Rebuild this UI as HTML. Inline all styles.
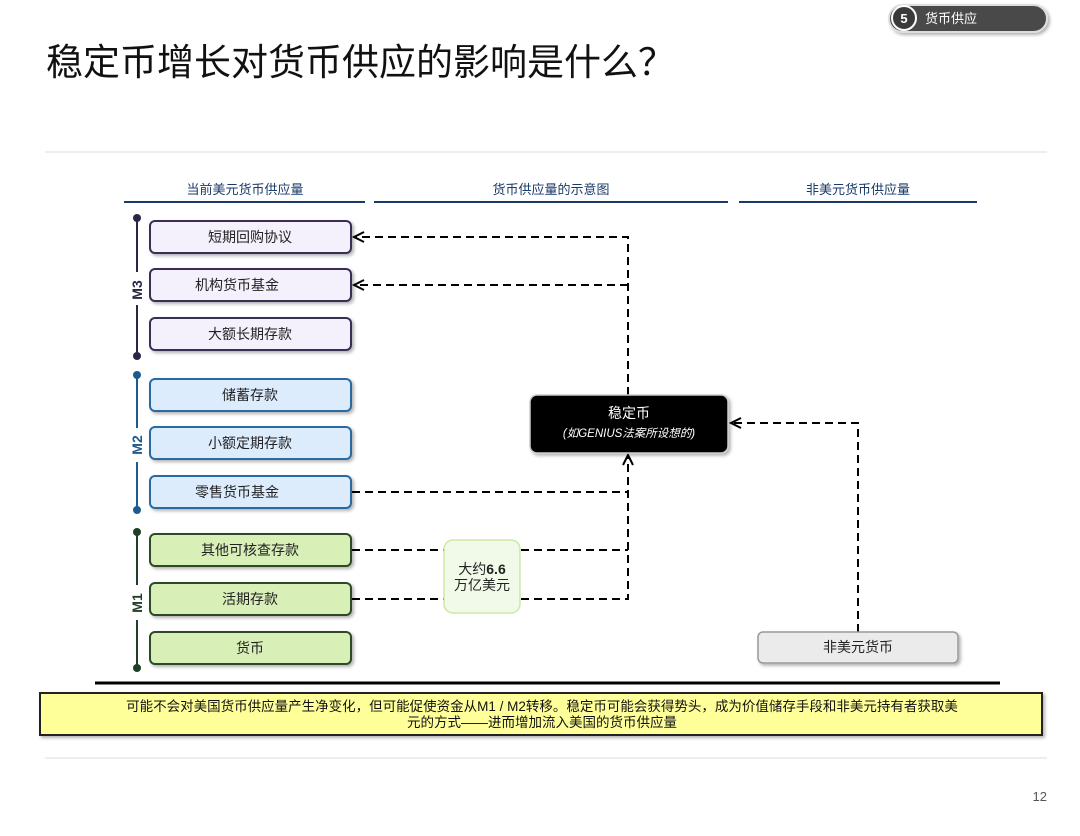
<!DOCTYPE html>
<html><head><meta charset="utf-8"><style>
html,body{margin:0;padding:0;background:#fff;}
svg{display:block;}
text{font-family:"Liberation Sans","Noto Sans CJK SC",sans-serif;}
</style></head><body>
<svg width="1080" height="836" viewBox="0 0 1080 836" xmlns="http://www.w3.org/2000/svg">
<defs>
<filter id="sh" x="-10%" y="-20%" width="130%" height="160%"><feDropShadow dx="2" dy="2" stdDeviation="1.5" flood-color="#000" flood-opacity="0.3"/></filter>
<marker id="ar" markerWidth="14" markerHeight="14" refX="11" refY="6" orient="auto" markerUnits="userSpaceOnUse"><path d="M1,1 L11,6 L1,11" fill="none" stroke="#000" stroke-width="2"/></marker>
</defs>
<rect x="889" y="5" width="158" height="27" rx="13.5" fill="#4a4a4a" stroke="#ddd" stroke-width="2" filter="url(#sh)"/>
<circle cx="904" cy="18" r="12" fill="#3a3a3a" stroke="#fff" stroke-width="2"/>
<text x="904" y="23" font-size="13" font-weight="bold" fill="#fff" text-anchor="middle">5</text>
<text x="925" y="23" font-size="13" fill="#fff">货币供应</text>
<text x="46" y="75" font-size="37" fill="#111">稳定币增长对货币供应的影响是什么？</text>
<line x1="45" y1="152" x2="1047" y2="152" stroke="#ddd" stroke-width="1"/>
<text x="245" y="194" font-size="13" fill="#1a3a6a" text-anchor="middle">当前美元货币供应量</text>
<line x1="124" y1="202" x2="365" y2="202" stroke="#1a3a6a" stroke-width="2"/>
<text x="551" y="194" font-size="13" fill="#1a3a6a" text-anchor="middle">货币供应量的示意图</text>
<line x1="374" y1="202" x2="728" y2="202" stroke="#1a3a6a" stroke-width="2"/>
<text x="858" y="194" font-size="13" fill="#1a3a6a" text-anchor="middle">非美元货币供应量</text>
<line x1="739" y1="202" x2="977" y2="202" stroke="#1a3a6a" stroke-width="2"/>
<g stroke-width="2">
<line x1="137" y1="218" x2="137" y2="272" stroke="#2e2546"/><line x1="137" y1="305" x2="137" y2="356" stroke="#2e2546"/>
<circle cx="137" cy="218" r="4" fill="#2e2546"/><circle cx="137" cy="356" r="4" fill="#2e2546"/>
<line x1="137" y1="375" x2="137" y2="428" stroke="#1f5a8e"/><line x1="137" y1="462" x2="137" y2="510" stroke="#1f5a8e"/>
<circle cx="137" cy="375" r="4" fill="#1f5a8e"/><circle cx="137" cy="510" r="4" fill="#1f5a8e"/>
<line x1="137" y1="532" x2="137" y2="585" stroke="#1f3f28"/><line x1="137" y1="620" x2="137" y2="668" stroke="#1f3f28"/>
<circle cx="137" cy="532" r="4" fill="#1f3f28"/><circle cx="137" cy="668" r="4" fill="#1f3f28"/>
</g>
<text transform="translate(142,290) rotate(-90)" font-size="14" font-weight="bold" fill="#2e2546" text-anchor="middle">M3</text>
<text transform="translate(142,445) rotate(-90)" font-size="14" font-weight="bold" fill="#1f5a8e" text-anchor="middle">M2</text>
<text transform="translate(142,603) rotate(-90)" font-size="14" font-weight="bold" fill="#1f3f28" text-anchor="middle">M1</text>
<g font-size="14" fill="#222" text-anchor="middle">
<g stroke="#3b2d55" stroke-width="2" fill="#f4f0fc" filter="url(#sh)">
<rect x="150" y="221" width="201" height="32" rx="5"/><rect x="150" y="269" width="201" height="32" rx="5"/><rect x="150" y="318" width="201" height="32" rx="5"/>
</g>
<g stroke="#2a6aa0" stroke-width="2" fill="#dcecfd" filter="url(#sh)">
<rect x="150" y="379" width="201" height="32" rx="5"/><rect x="150" y="427" width="201" height="32" rx="5"/><rect x="150" y="476" width="201" height="32" rx="5"/>
</g>
<g stroke="#2f4a28" stroke-width="2" fill="#d8efb8" filter="url(#sh)">
<rect x="150" y="534" width="201" height="32" rx="5"/><rect x="150" y="583" width="201" height="32" rx="5"/><rect x="150" y="632" width="201" height="32" rx="5"/>
</g>
<text x="250" y="242">短期回购协议</text>
<text x="237" y="290">机构货币基金</text>
<text x="250" y="339">大额长期存款</text>
<text x="250" y="400">储蓄存款</text>
<text x="250" y="448">小额定期存款</text>
<text x="237" y="497">零售货币基金</text>
<text x="250" y="555">其他可核查存款</text>
<text x="250" y="604">活期存款</text>
<text x="250" y="653">货币</text>
</g>
<g fill="none" stroke="#000" stroke-width="2" stroke-dasharray="8,5">
<path d="M628,395 V237 H354" marker-end="url(#ar)"/>
<path d="M628,285 H354" marker-end="url(#ar)"/>
<path d="M352,492 H628"/>
<path d="M352,550 H628"/>
<path d="M352,599 H628 V455" marker-end="url(#ar)"/>
<path d="M858,632 V423 H731" marker-end="url(#ar)"/>
</g>
<rect x="530" y="395" width="198" height="58" rx="7" fill="#000" stroke="#ccc" stroke-width="1.5" filter="url(#sh)"/>
<text x="629" y="418" font-size="14" fill="#fff" text-anchor="middle">稳定币</text>
<text x="629" y="437" font-size="11.5" font-style="italic" fill="#fff" text-anchor="middle">(如GENIUS法案所设想的)</text>
<rect x="444" y="540" width="76" height="73" rx="9" fill="#f1fae8" stroke="#cde8a8" stroke-width="1.5"/>
<text x="482" y="574" font-size="14" fill="#222" text-anchor="middle">大约<tspan font-weight="bold">6.6</tspan></text>
<text x="482" y="590" font-size="14" fill="#222" text-anchor="middle">万亿美元</text>
<rect x="758" y="632" width="200" height="31" rx="5" fill="#ebebeb" stroke="#999" stroke-width="1.5" filter="url(#sh)"/>
<text x="858" y="652" font-size="14" fill="#222" text-anchor="middle">非美元货币</text>
<line x1="95" y1="683" x2="1000" y2="683" stroke="#000" stroke-width="3"/>
<rect x="40" y="693" width="1002" height="42" fill="#ffff99" stroke="#222" stroke-width="2" filter="url(#sh)"/>
<text x="542" y="711" font-size="13.5" fill="#111" text-anchor="middle">可能不会对美国货币供应量产生净变化，但可能促使资金从M1 / M2转移。稳定币可能会获得势头，成为价值储存手段和非美元持有者获取美</text>
<text x="542" y="727" font-size="13.5" fill="#111" text-anchor="middle">元的方式——进而增加流入美国的货币供应量</text>
<line x1="45" y1="758" x2="1047" y2="758" stroke="#ddd" stroke-width="1"/>
<text x="1047" y="801" font-size="13" fill="#555" text-anchor="end">12</text>
</svg>
</body></html>
